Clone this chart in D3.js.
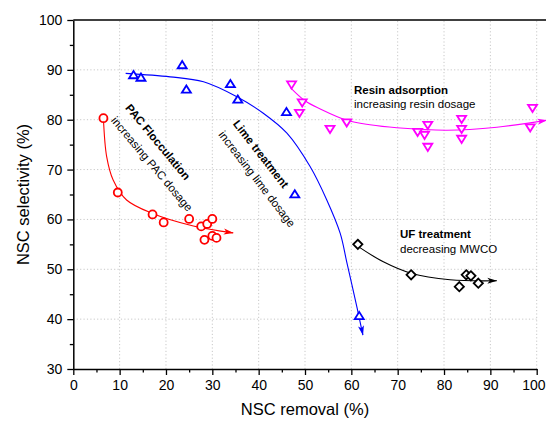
<!DOCTYPE html>
<html>
<head>
<meta charset="utf-8">
<script src="https://cdn.jsdelivr.net/npm/d3@7"></script>
<style>
  html, body { margin: 0; padding: 0; background: #fff; }
  svg { display: block; font-family: "Liberation Sans", Arial, sans-serif; }
</style>
</head>
<body>
<svg id="chart" width="546" height="422"></svg>
<script>
// ---- data ----
const xTicks = [0, 10, 20, 30, 40, 50, 60, 70, 80, 90, 100];
const yTicks = [30, 40, 50, 60, 70, 80, 90, 100];

const pacX = [6.5, 9.6, 17.1, 19.5, 25.0, 27.6, 28.9, 30.0, 28.3, 30.0, 30.9];
const pacY = [80.3, 65.4, 61.0, 59.4, 60.1, 58.6, 59.1, 60.1, 55.9, 56.7, 56.3];

const limeX = [13.0, 14.6, 23.5, 24.4, 33.9, 35.5, 46.0, 47.8, 61.7];
const limeY = [89.0, 88.5, 91.0, 86.1, 87.2, 84.1, 81.6, 65.1, 40.7];

const resinX = [47.1, 49.4, 48.8, 55.4, 59.0, 74.3, 76.5, 75.8, 76.5, 83.8, 83.8, 83.8, 99.1, 98.6];
const resinY = [87.0, 83.4, 81.3, 78.1, 79.4, 77.5, 78.9, 76.9, 74.5, 80.1, 78.1, 76.1, 82.3, 78.4];

const ufX = [61.4, 72.9, 83.3, 84.8, 85.8, 87.4];
const ufY = [55.0, 48.9, 46.5, 48.9, 48.7, 47.2];

// trend (guide) curves
const pacFitX = [6.5, 7.2, 8.6, 11.5, 17.1, 25.9, 34.5];
const pacFitY = [80.3, 72.6, 67.9, 63.9, 61.2, 58.7, 57.3];
const limeFitX = [11.3, 20.9, 28.1, 35.3, 41.0, 46.1, 51.1, 54.7, 57.6, 59.0, 61.3, 62.5];
const limeFitY = [89.3, 88.6, 87.6, 84.6, 81.3, 77.3, 70.6, 63.9, 57.2, 51.5, 42.0, 36.8];
const resinFitX = [46.8, 50.0, 53.2, 59.0, 64.0, 69.8, 80.6, 91.4, 102.2];
const resinFitY = [86.5, 83.8, 82.2, 79.9, 79.0, 78.4, 77.9, 78.5, 79.9];
const ufFitX = [61.6, 66.9, 72.9, 81.3, 91.4];
const ufFitY = [54.5, 51.5, 49.2, 47.9, 47.7];

// ---- drawing ----
const W = 546, H = 422;
const svg = d3.select("#chart");
const x = d3.scaleLinear().domain([0, 100]).range([73.3, 536.7]);
const y = d3.scaleLinear().domain([30, 100]).range([369, 20]);

const minorX = d3.range(5, 100, 10);
const minorY = d3.range(35, 100, 10);

// gridlines
const grid = svg.append("g").attr("stroke", "#c8c8c8").attr("stroke-width", 1)
  .attr("stroke-dasharray", "1.2,2.2");
grid.selectAll("line.gx").data(xTicks.filter(d => d > 0)).join("line")
  .attr("x1", d => x(d)).attr("x2", d => x(d))
  .attr("y1", y(30)).attr("y2", y(100));
grid.selectAll("line.gy").data(yTicks.filter(d => d > 30 && d < 100)).join("line")
  .attr("x1", x(0)).attr("x2", x(100))
  .attr("y1", d => y(d)).attr("y2", d => y(d));

// top frame line
svg.append("line").attr("x1", x(0)).attr("x2", W).attr("y1", y(100)).attr("y2", y(100))
  .attr("stroke", "#000").attr("stroke-width", 1.5);

// axes
function styleAxis(g) {
  g.select(".domain").attr("stroke", "#000").attr("stroke-width", 1.5);
  g.selectAll(".tick line").attr("stroke", "#000").attr("stroke-width", 1.3);
  g.selectAll(".tick text").attr("fill", "#000").style("font-size", "14px");
}
const xAxis = svg.append("g").attr("transform", `translate(0,${y(30)})`)
  .call(d3.axisBottom(x).tickValues(xTicks).tickSize(6).tickPadding(5).tickSizeOuter(0));
styleAxis(xAxis);
// keep the last label inside the picture
xAxis.selectAll(".tick text").filter(d => d === 100).attr("text-anchor", "end").attr("x", W - 1 - x(100));
const xMinor = svg.append("g").attr("transform", `translate(0,${y(30)})`)
  .call(d3.axisBottom(x).tickValues(minorX).tickSize(3.5).tickFormat(""));
xMinor.select(".domain").remove();
xMinor.selectAll(".tick line").attr("stroke", "#000").attr("stroke-width", 1.3);

const yAxis = svg.append("g").attr("transform", `translate(${x(0)},0)`)
  .call(d3.axisLeft(y).tickValues(yTicks).tickSize(6).tickPadding(5).tickSizeOuter(0));
styleAxis(yAxis);
const yMinor = svg.append("g").attr("transform", `translate(${x(0)},0)`)
  .call(d3.axisLeft(y).tickValues(minorY).tickSize(3.5).tickFormat(""));
yMinor.select(".domain").remove();
yMinor.selectAll(".tick line").attr("stroke", "#000").attr("stroke-width", 1.3);

// axis titles
svg.append("text").attr("x", (x(0) + x(100)) / 2).attr("y", 415)
  .attr("text-anchor", "middle").style("font-size", "16.5px").text("NSC removal (%)");
svg.append("text").attr("transform", `translate(29,${(y(30) + y(100)) / 2}) rotate(-90)`)
  .attr("text-anchor", "middle").style("font-size", "16.5px").text("NSC selectivity (%)");

// arrow markers
const defs = svg.append("defs");
function marker(id, color) {
  defs.append("marker").attr("id", id).attr("viewBox", "0 -4 10 8")
    .attr("refX", 9.5).attr("refY", 0).attr("markerWidth", 10).attr("markerHeight", 8)
    .attr("markerUnits", "userSpaceOnUse").attr("orient", "auto")
    .append("path").attr("d", "M0,-3L10,0L0,3L2.5,0Z").attr("fill", color);
}
marker("arR", "#ff0000"); marker("arB", "#0000ff"); marker("arM", "#ff00ff"); marker("arK", "#000000");

const line = d3.line().x(d => x(d[0])).y(d => y(d[1])).curve(d3.curveCatmullRom.alpha(0.5));
function fit(xs, ys, color, mk) {
  svg.append("path").datum(d3.zip(xs, ys)).attr("d", line)
    .attr("fill", "none").attr("stroke", color).attr("stroke-width", 1.1)
    .attr("marker-end", `url(#${mk})`);
}
fit(pacFitX, pacFitY, "#ff0000", "arR");
fit(limeFitX, limeFitY, "#0000ff", "arB");
fit(resinFitX, resinFitY, "#ff00ff", "arM");
fit(ufFitX, ufFitY, "#000000", "arK");

// markers
function pts(xs, ys, color, shape) {
  const g = svg.append("g").attr("fill", "#fff").attr("stroke", color).attr("stroke-width", 1.8);
  const data = d3.zip(xs, ys);
  if (shape === "circle") {
    g.selectAll("circle").data(data).join("circle")
      .attr("cx", d => x(d[0])).attr("cy", d => y(d[1])).attr("r", 4);
  } else {
    let p;
    if (shape === "up") p = "M0,-3.8L4.5,3.4L-4.5,3.4Z";
    else if (shape === "down") p = "M0,3.8L4.5,-3.4L-4.5,-3.4Z";
    else p = "M0,-4.6L4.6,0L0,4.6L-4.6,0Z";
    g.selectAll("path").data(data).join("path")
      .attr("transform", d => `translate(${x(d[0])},${y(d[1])})`).attr("d", p)
      .attr("stroke-linejoin", "miter");
  }
}
pts(pacX, pacY, "#ff0000", "circle");
pts(limeX, limeY, "#0000ff", "up");
pts(resinX, resinY, "#ff00ff", "down");
pts(ufX, ufY, "#000000", "diamond");

// annotations
function label(txt, px, py, bold, rot) {
  const t = svg.append("text").style("font-size", "11.5px").attr("fill", "#000")
    .style("font-weight", bold ? "bold" : "normal").text(txt);
  if (rot) {
    t.attr("text-anchor", "middle").attr("dominant-baseline", "central")
      .attr("transform", `translate(${px},${py}) rotate(${rot})`);
  } else {
    t.attr("x", px).attr("y", py);
  }
}
label("Resin adsorption", 354, 93.5, true);
label("increasing resin dosage", 354, 107.5, false);
label("UF treatment", 400, 237.5, true);
label("decreasing MWCO", 400, 252.5, false);
label("PAC Flocculation", 158, 142, true, 50.4);
label("increasing PAC dosage", 152, 164, false, 50);
label("Lime treatment", 261, 154, true, 52);
label("increasing lime dosage", 257, 179, false, 52.5);
</script>
</body>
</html>
